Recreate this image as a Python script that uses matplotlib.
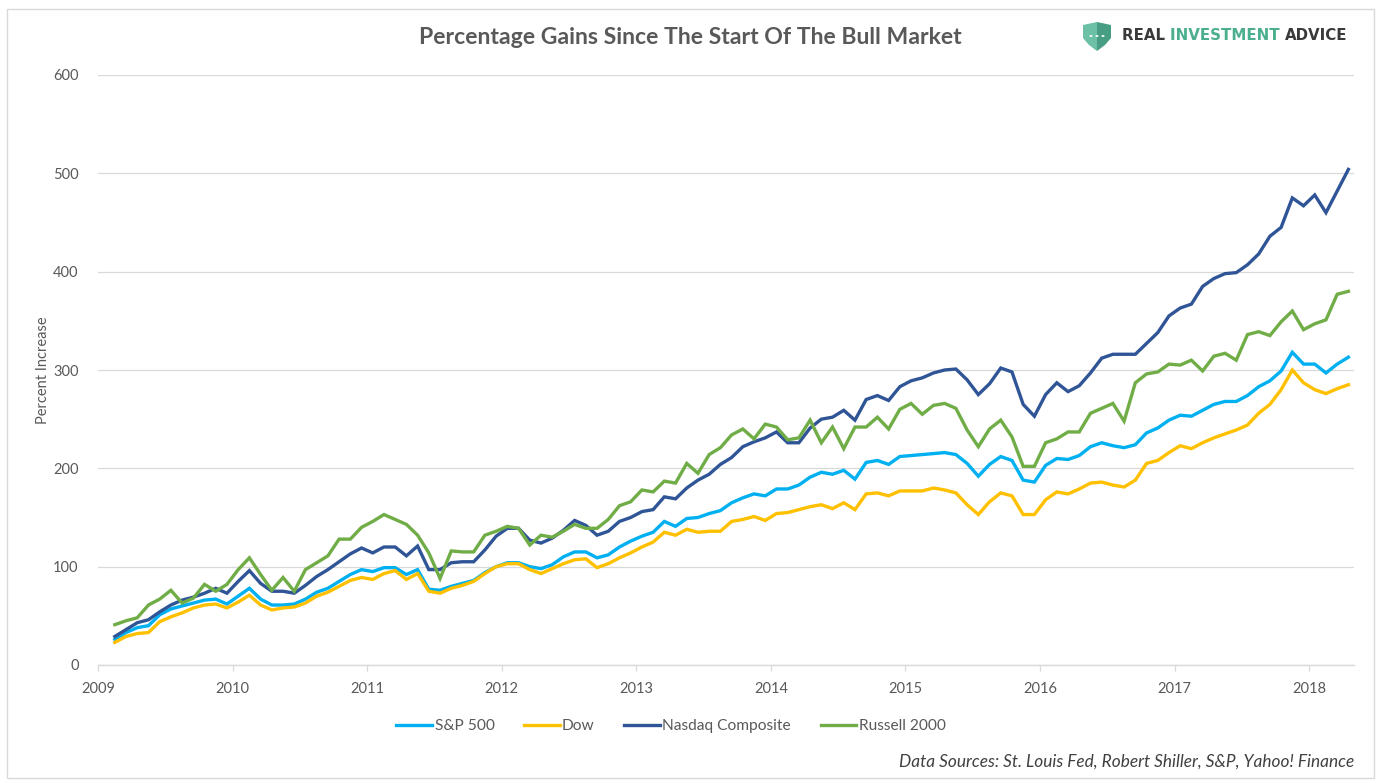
#!/usr/bin/env python3
"""Percentage gains since the start of the bull market (monthly, Feb 2009 - Apr 2018)."""
import matplotlib

matplotlib.use("Agg")
import matplotlib.pyplot as plt
from matplotlib.patches import Polygon, Rectangle, Circle
import pandas as pd

months = pd.period_range("2009-02", "2018-04", freq="M")

sp500 = [26, 33, 38, 40, 51, 57, 60, 63, 66, 67, 62, 70, 78, 67, 61, 61, 62, 67, 74, 78,
         85, 92, 97, 95, 99, 99, 92, 97, 77, 76, 80, 83, 86, 94, 100, 104, 104, 100, 98, 102,
         110, 115, 115, 109, 112, 120, 126, 131, 135, 146, 141, 149, 150, 154, 157, 165, 170, 174, 172, 179,
         179, 183, 191, 196, 194, 198, 189, 206, 208, 204, 212, 213, 214, 215, 216, 214, 205, 192, 204, 212,
         208, 188, 186, 203, 210, 209, 213, 222, 226, 223, 221, 224, 236, 241, 249, 254, 253, 259, 265, 268,
         268, 274, 283, 289, 299, 318, 306, 306, 297, 306, 313]

dow = [23, 29, 32, 33, 44, 49, 53, 58, 61, 62, 58, 64, 71, 61, 56, 58, 59, 63, 70, 74,
       80, 86, 89, 87, 93, 96, 87, 93, 75, 73, 78, 81, 85, 93, 100, 103, 103, 97, 93, 98,
       103, 107, 108, 99, 103, 109, 114, 120, 125, 135, 132, 138, 135, 136, 136, 146, 148, 151, 147, 154,
       155, 158, 161, 163, 159, 165, 158, 174, 175, 172, 177, 177, 177, 180, 178, 175, 163, 153, 166, 175,
       172, 153, 153, 168, 176, 174, 179, 185, 186, 183, 181, 188, 205, 208, 216, 223, 220, 226, 231, 235,
       239, 244, 256, 265, 280, 300, 287, 280, 276, 281, 285]

nasdaq = [29, 36, 43, 46, 54, 61, 66, 69, 73, 78, 73, 85, 96, 83, 75, 75, 73, 81, 90, 97,
          105, 113, 119, 114, 120, 120, 111, 121, 97, 97, 104, 105, 105, 117, 131, 139, 139, 127, 124, 129,
          137, 147, 142, 132, 136, 146, 150, 156, 158, 171, 169, 180, 188, 194, 204, 211, 222, 227, 231, 237,
          226, 226, 241, 250, 252, 259, 249, 270, 274, 269, 283, 289, 292, 297, 300, 301, 290, 275, 286, 302,
          298, 265, 253, 275, 287, 278, 284, 297, 312, 316, 316, 316, 327, 338, 355, 363, 367, 385, 393, 398,
          399, 407, 418, 436, 445, 475, 467, 478, 460, 482, 504]

russell = [41, 45, 48, 61, 67, 76, 63, 68, 82, 75, 82, 97, 109, 92, 76, 89, 75, 97, 104, 111,
           128, 128, 140, 146, 153, 148, 143, 132, 114, 88, 116, 115, 115, 132, 136, 141, 139, 122, 132, 130,
           136, 143, 139, 139, 148, 162, 166, 178, 176, 187, 185, 205, 195, 214, 221, 234, 240, 230, 245, 242,
           229, 231, 249, 226, 242, 220, 242, 242, 252, 240, 260, 266, 255, 264, 266, 261, 239, 222, 240, 249,
           232, 202, 202, 226, 230, 237, 237, 256, 261, 266, 248, 287, 296, 298, 306, 305, 310, 299, 314, 317,
           310, 336, 339, 335, 349, 360, 341, 347, 351, 377, 380]

series_names = ["S&P 500", "Dow", "Nasdaq Composite", "Russell 2000"]
series_colors = ["#00B0F0", "#FFC000", "#2F5597", "#70AD47"]
year_ticks = list(range(2009, 2019))
y_ticks = [0, 100, 200, 300, 400, 500, 600]

TEXT = "#595959"
GRID = "#D9D9D9"
FONT = "Lato"

# Excel-style month slots: each point sits in the middle of its month
x = [m.year + (m.month - 0.5) / 12 for m in months]

W, H = 1382, 783
fig = plt.figure(figsize=(W / 100, H / 100), dpi=100)
fig.patch.set_facecolor("white")
fig.add_artist(Rectangle((7 / W, 1 - 778 / H), 1367 / W, 769 / H, transform=fig.transFigure,
                         fill=False, edgecolor=GRID, linewidth=1.0))

ax = fig.add_axes([98 / W, 1 - 665 / H, (1354 - 98) / W, (665 - 75) / H])
for name, vals, col in zip(series_names, [sp500, dow, nasdaq, russell], series_colors):
    ax.plot(x, vals, color=col, linewidth=2.4, label=name, solid_joinstyle="miter")

ax.set_xlim(2009, 2018 + 4 / 12)
ax.set_ylim(0, 600)
ax.set_xticks(year_ticks, [str(y) for y in year_ticks])
ax.set_yticks(y_ticks, [str(v) for v in y_ticks])
ax.grid(axis="y", color=GRID, linewidth=0.9)
ax.set_axisbelow(True)
for side in ("top", "right", "left"):
    ax.spines[side].set_visible(False)
ax.spines["bottom"].set_color(GRID)
ax.spines["bottom"].set_linewidth(1.0)
ax.tick_params(axis="x", colors=TEXT, length=4, width=0.9, color=GRID, pad=8, labelsize=10.5)
ax.tick_params(axis="y", colors=TEXT, length=0, pad=14, labelsize=10.5)
for lab in ax.get_xticklabels() + ax.get_yticklabels():
    lab.set_fontfamily(FONT)

fig.text(43 / W, 1 - 370 / H, "Percent Increase", rotation=90, ha="center", va="center",
         color=TEXT, fontsize=10.5, fontfamily=FONT)

fig.text(690 / W, 1 - 38 / H, "Percentage Gains Since The Start Of The Bull Market",
         ha="center", va="center", color=TEXT, fontsize=16.6, fontweight="bold", fontfamily=FONT)

# logo: shield + wordmark
sx, sy = 1083, 22
left_half = [(sx, sy + 3), (sx + 14, sy), (sx + 14, sy + 29), (sx + 6, sy + 23), (sx, sy + 16)]
right_half = [(sx + 14, sy), (sx + 28, sy + 3), (sx + 28, sy + 16), (sx + 22, sy + 23), (sx + 14, sy + 29)]
for pts, col in ((left_half, "#6CC0A6"), (right_half, "#479E85")):
    fig.add_artist(Polygon([(px / W, 1 - py / H) for px, py in pts], closed=True,
                           transform=fig.transFigure, facecolor=col, edgecolor="none"))
for dx in (-6, 0, 6):
    fig.add_artist(Circle(((sx + 14 + dx) / W, 1 - (sy + 14) / H), 1.6 / W,
                          transform=fig.transFigure, facecolor="white", edgecolor="none"))

logo_y = 1 - 36 / H
t1 = fig.text(1122 / W, logo_y, "REAL ", ha="left", va="center", color="#3A3A3A",
              fontsize=10.8, fontweight="bold", fontfamily="DejaVu Sans")
t2 = ax.annotate("INVESTMENT ", xy=(1, 0), xycoords=t1, ha="left", va="bottom", color="#4AAE8F",
                 fontsize=10.8, fontweight="bold", fontfamily="DejaVu Sans", annotation_clip=False)
ax.annotate("ADVICE", xy=(1, 0), xycoords=t2, ha="left", va="bottom", color="#3A3A3A",
            fontsize=10.8, fontweight="bold", fontfamily="DejaVu Sans", annotation_clip=False)

leg = fig.legend(loc="center", bbox_to_anchor=(671 / W, 1 - 726 / H), ncol=4, frameon=False,
                 handlelength=2.3, handletextpad=0.15, columnspacing=1.9,
                 prop={"family": FONT, "size": 11.2})
for t in leg.get_texts():
    t.set_color(TEXT)

fig.text(1354 / W, 1 - 762 / H, "Data Sources: St. Louis Fed, Robert Shiller, S&P, Yahoo! Finance",
         ha="right", va="center", color="#404040", fontsize=12.4, fontstyle="italic", fontfamily=FONT)

fig.savefig("out.png", dpi=100, facecolor=fig.get_facecolor())
